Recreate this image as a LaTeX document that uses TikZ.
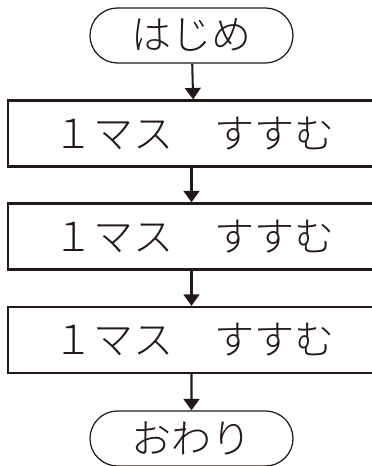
\documentclass[tikz,border=0pt]{standalone}
\usepackage{fontspec}
\newfontfamily\jpfont{Noto Sans CJK JP Light}
\usetikzlibrary{arrows.meta}
\definecolor{ink}{HTML}{231815}

\begin{document}
\begin{tikzpicture}[scale=0.2]
        \tikzstyle{every node}+=[inner sep=0pt, text=ink, font=\jpfont\fontsize{22.8}{22.8}\selectfont]
        \tikzstyle{term}=[draw=ink, line width=0.7pt, rounded corners=0.55cm, minimum width=4.06cm, minimum height=1.1cm]
        \tikzstyle{task}=[draw=ink, line width=1.3pt, minimum width=7.44cm, minimum height=1.32cm]
        \tikzstyle{flow}=[draw=ink, line width=1.15pt, -{Triangle[width=9pt,length=6.5pt]}]
        \useasboundingbox (0,0) rectangle (37.2,-46.6);
        \clip (0,0) rectangle (37.2,-46.6);
        \node [term] (start) at (19.15,-3.55) {はじめ};
        \node [task] (step1) at (19.4,-13.35) {１マス　すすむ};
        \node [task] (step2) at (19.4,-23.65) {１マス　すすむ};
        \node [task] (step3) at (19.4,-34.0) {１マス　すすむ};
        \node [term] (stop) at (19.15,-43.85) {おわり};
        \draw [flow] (start) -- (step1);
        \draw [flow] (step1.south -| start) -- (step2.north -| start);
        \draw [flow] (step2.south -| start) -- (step3.north -| start);
        \draw [flow] (step3.south -| start) -- (stop);
    \end{tikzpicture}
\end{document}
